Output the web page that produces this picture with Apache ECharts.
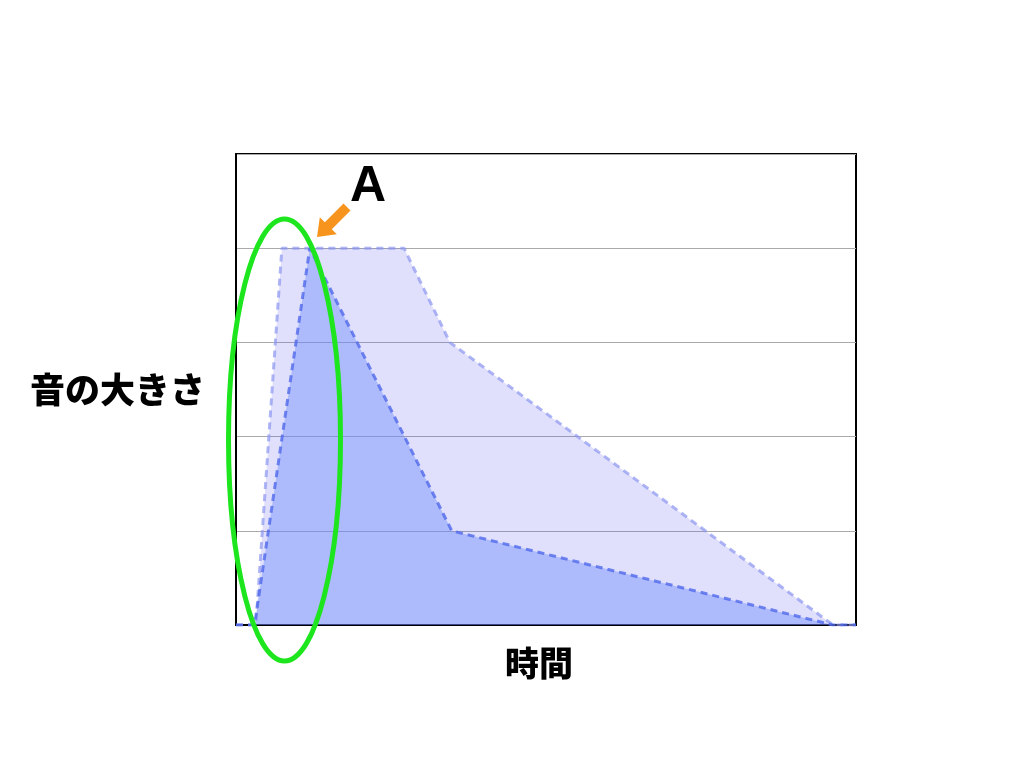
<!DOCTYPE html>
<html lang="ja">
<head>
<meta charset="UTF-8">
<title>音の大きさ</title>
<style>
  html, body {margin:0; padding:0; background:#fff}
  #chart {width:1024px; height:768px}
</style>
<script src="https://cdn.jsdelivr.net/npm/echarts@6/dist/echarts.min.js"></script>
</head>
<body>
<div id="chart"></div>
<script>
// 時間 (0-100) と 音の大きさ (0-5)
const lightTime = [0, 3.2, 7.4, 27.1, 34.5, 96.3, 100];
const lightLevel = [0, 0, 4, 4, 3, 0, 0];
const darkTime = [0, 3.0, 11.9, 34.8, 96.3, 100];
const darkLevel = [0, 0, 4, 1, 0, 0];

const chart = echarts.init(document.getElementById('chart'));

const jp = '"Noto Sans CJK JP", sans-serif';

const option = {
  animation: false,
  grid: {
    left: 236, top: 154, width: 620, height: 471,
    show: true, borderColor: '#000', borderWidth: 2, backgroundColor: 'transparent'
  },
  xAxis: {
    type: 'value', min: 0, max: 100,
    name: '時間', nameLocation: 'middle', nameGap: 21,
    nameTextStyle: {fontFamily: jp, fontWeight: 900, fontSize: 34, color: '#000', padding: [0, 14, 0, 0]},
    axisLine: {show: true, lineStyle: {color: '#000', width: 2}},
    axisTick: {show: false}, axisLabel: {show: false}, splitLine: {show: false}
  },
  yAxis: {
    type: 'value', min: 0, max: 5, interval: 1,
    name: '音の大きさ', nameLocation: 'middle', nameRotate: 0, nameGap: 31,
    nameTextStyle: {fontFamily: jp, fontWeight: 900, fontSize: 35, color: '#000', align: 'right'},
    axisLine: {show: true, lineStyle: {color: '#000', width: 2}},
    axisTick: {show: false}, axisLabel: {show: false},
    splitLine: {show: true, lineStyle: {color: '#aaa', width: 1}}
  },
  series: [
    {
      type: 'line', symbol: 'none',
      data: lightTime.map((t, i) => [t, lightLevel[i]]),
      lineStyle: {color: 'rgba(140,150,240,0.7)', width: 3, type: [7, 5]},
      areaStyle: {color: 'rgba(90,90,240,0.19)', opacity: 1}
    },
    {
      type: 'line', symbol: 'none',
      data: darkTime.map((t, i) => [t, darkLevel[i]]),
      lineStyle: {color: 'rgba(80,105,235,0.8)', width: 3, type: [7, 5]},
      areaStyle: {color: 'rgba(110,140,250,0.45)', opacity: 1}
    }
  ],
  graphic: [
    {
      type: 'ellipse', shape: {cx: 284.5, cy: 440, rx: 56, ry: 221},
      style: {fill: 'none', stroke: '#1ee61e', lineWidth: 5}, z: 100
    },
    {
      type: 'polygon',
      shape: {points: [[350.5, 210.5], [331.8, 229.2], [336.8, 234.2], [317, 237], [319.8, 217.2], [324.8, 222.2], [343.5, 203.5]]},
      style: {fill: '#f7941d'}, z: 100
    },
    {
      type: 'text', x: 368, y: 187,
      style: {text: 'A', fontFamily: '"Liberation Sans", Arial, sans-serif', fontWeight: 'bold', fontSize: 50,
        fill: '#000', align: 'center', verticalAlign: 'middle'}, z: 100
    }
  ]
};

chart.setOption(option);
</script>
</body>
</html>
